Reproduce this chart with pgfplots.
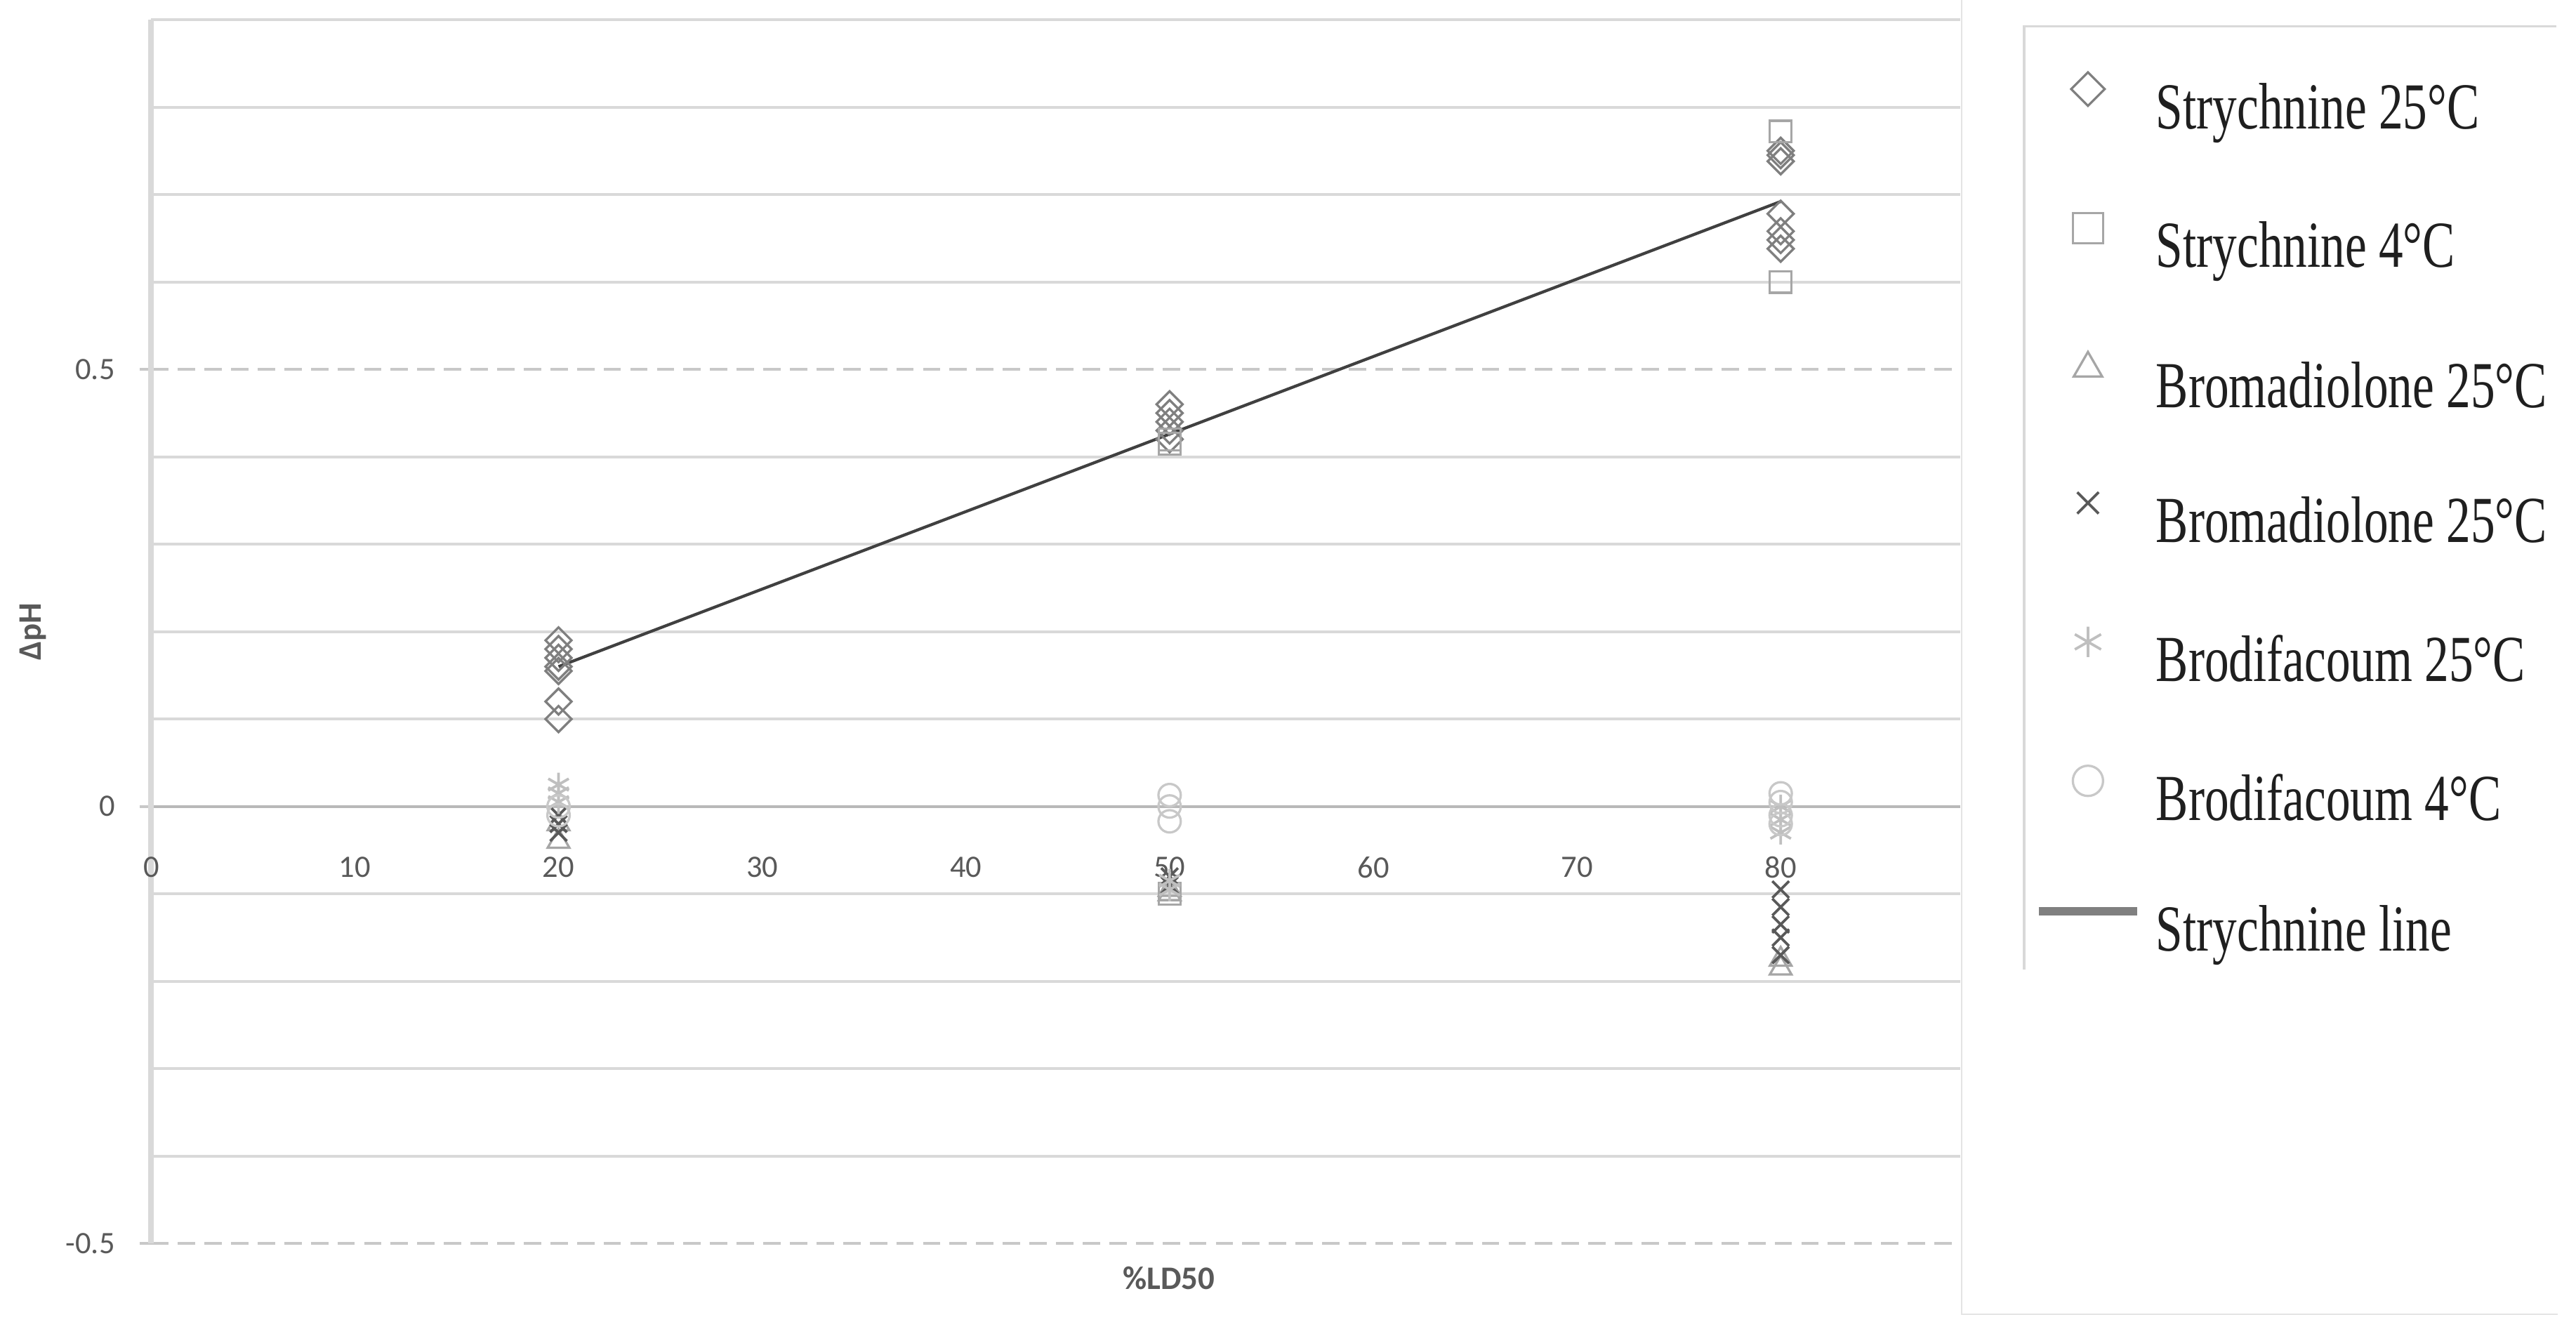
\documentclass[border=0pt]{standalone}
\usepackage{fontspec}
\setmainfont{Carlito}
\newfontfamily\legfont[FakeStretch=0.74]{Liberation Serif}
\usepackage{pgfplots}
\pgfplotsset{compat=1.18}
\definecolor{gridc}{HTML}{D9D9D9}
\definecolor{dashc}{HTML}{C8C8C8}
\definecolor{labc}{HTML}{595959}
\definecolor{diamc}{HTML}{7F7F7F}
\definecolor{sqc}{HTML}{A6A6A6}
\definecolor{tric}{HTML}{A6A6A6}
\definecolor{xc}{HTML}{595959}
\definecolor{astc}{HTML}{BFBFBF}
\definecolor{circc}{HTML}{C8C8C8}
\definecolor{linec}{HTML}{404040}
\definecolor{leglinec}{HTML}{808080}

\pgfplotsset{
  mklegend/.style={legend image code/.code={%
    \draw[mark repeat=2,mark phase=2,##1] plot coordinates {(0bp,7bp)(15bp,7bp)(30bp,7bp)};}},
  sdiam/.style={only marks, mark=square, mark size=2.8bp, mark options={rotate=45, draw=diamc, fill=none, line width=0.7bp, solid}},
  ssq/.style={only marks, mark=square, mark size=3.3bp, mark options={draw=sqc, fill=none, line width=0.7bp, solid}},
  stri/.style={only marks, mark=triangle, mark size=3.8bp, mark options={draw=tric, fill=none, line width=0.7bp, solid}},
  sx/.style={only marks, mark=x, mark size=3.6bp, mark options={draw=xc, line width=0.8bp, solid}},
  sast/.style={only marks, mark=asterisk, mark size=3.6bp, mark options={draw=astc, line width=0.8bp, solid}},
  scirc/.style={only marks, mark=o, mark size=3.4bp, mark options={draw=circc, fill=none, line width=0.7bp, solid}},
}

\begin{document}
\begin{tikzpicture}
\useasboundingbox (0,0) rectangle (784bp,404.5bp);
\begin{axis}[
  at={(46bp,26bp)}, anchor=south west,
  width=550.5bp, height=372.5bp, scale only axis,
  xmin=0, xmax=88.8, ymin=-0.5, ymax=0.9,
  axis x line*=middle, axis y line*=left,
  hide obscured x ticks=false, hide obscured y ticks=false,
  xtick={0,10,20,30,40,50,60,70,80},
  ytick={-0.5,0,0.5},
  minor ytick={-0.4,-0.3,-0.2,-0.1,0.1,0.2,0.3,0.4,0.6,0.7,0.8,0.9},
  ymajorgrids, yminorgrids,
  major grid style={draw=dashc, line width=0.85bp, dash pattern=on 5.3bp off 2.8bp},
  minor grid style={draw=gridc, line width=0.85bp},
  x axis line style={draw=gray!55, line width=0.9bp},
  y axis line style={draw=gridc, line width=1.7bp},
  xtick style={draw=none}, minor tick length=0pt,
  ytick style={draw=dashc, line width=0.85bp}, major tick length=3.5bp, tick align=outside,
  /pgf/number format/assume math mode=true,
  tick label style={font=\fontsize{9.5bp}{11bp}\selectfont, text=labc},
  xticklabel style={anchor=center, yshift=-15bp},
  yticklabel style={xshift=-4bp},
  xlabel={\%LD50}, ylabel={ΔpH},
  label style={font=\bfseries\fontsize{10bp}{12bp}\selectfont, text=labc},
  xlabel style={at={(axis description cs:0.5627,0)}, anchor=center, yshift=-10.5bp},
  ylabel style={at={(axis description cs:-0.0654,0.5)}, anchor=center},
  legend style={at={(1.0409,0.9575)}, anchor=north west, draw=none, fill=none,
    inner sep=0pt, row sep=21.7bp, column sep=4.5bp,
    font=\legfont\fontsize{20bp}{22bp}\selectfont, text=black!88,
    cells={anchor=west}, nodes={inner sep=0pt, text height=14bp, text depth=4bp}},
  legend cell align=left,
]
% Strychnine 25 C
\addplot[sdiam, forget plot] coordinates {
  (20,0.19)(20,0.18)(20,0.17)(20,0.16)(20,0.155)(20,0.12)(20,0.10)
  (50,0.46)(50,0.45)(50,0.44)(50,0.43)(50,0.42)
  (80,0.75)(80,0.745)(80,0.738)(80,0.678)(80,0.658)(80,0.648)(80,0.638)};
% Strychnine 4 C
\addplot[ssq, forget plot] coordinates {
  (50,0.42)(50,0.415)(50,-0.10)
  (80,0.772)(80,0.60)};
% Bromadiolone 25 C (triangle)
\addplot[stri, forget plot] coordinates {
  (20,-0.04)(20,-0.02)
  (50,-0.10)(50,-0.095)
  (80,-0.185)(80,-0.175)};
% Bromadiolone 25 C (x)
\addplot[sx, forget plot] coordinates {
  (20,-0.01)(20,-0.02)(20,-0.03)
  (50,-0.08)(50,-0.09)
  (80,-0.095)(80,-0.115)(80,-0.135)(80,-0.15)(80,-0.17)};
% Brodifacoum 25 C
\addplot[sast, forget plot] coordinates {
  (20,0.025)(20,0.015)(20,0.005)
  (50,-0.085)(50,-0.095)
  (80,0.0)(80,-0.015)(80,-0.03)};
% Brodifacoum 4 C
\addplot[scirc, forget plot] coordinates {
  (20,0.0)(20,-0.01)
  (50,0.013)(50,0.0)(50,-0.017)
  (80,0.015)(80,0.005)(80,-0.01)(80,-0.02)};
% Strychnine line
\addplot[draw=linec, line width=0.9bp, no marks, forget plot] coordinates {(20,0.16)(80,0.692)};

\addlegendimage{sdiam, mklegend, mark size=3.6bp}
\addlegendentry{Strychnine 25°C}
\addlegendimage{ssq, mklegend, mark size=4.6bp}
\addlegendentry{Strychnine 4°C}
\addlegendimage{stri, mklegend, mark size=5bp}
\addlegendentry{Bromadiolone 25°C}
\addlegendimage{sx, mklegend, mark size=4.6bp}
\addlegendentry{Bromadiolone 25°C}
\addlegendimage{sast, mklegend, mark size=4.6bp}
\addlegendentry{Brodifacoum 25°C}
\addlegendimage{scirc, mklegend, mark size=4.6bp}
\addlegendentry{Brodifacoum 4°C}
\addlegendimage{mklegend, draw=leglinec, line width=2.5bp, no marks}
\addlegendentry{Strychnine line}
\end{axis}
\draw[draw=gridc!70, line width=0.6bp] (597bp,404.5bp) -- (597bp,4.5bp) -- (778.5bp,4.5bp);
\draw[draw=gridc, line width=0.8bp] (616bp,109.5bp) -- (616bp,396.5bp) -- (778bp,396.5bp);
\end{tikzpicture}
\end{document}
